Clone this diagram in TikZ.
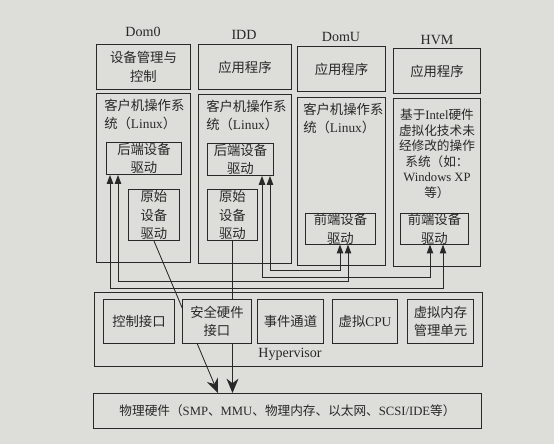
\documentclass[tikz,border=0pt]{standalone}
\usepackage{fontspec}
\setmainfont{Liberation Serif}
\newfontfamily\cjk{Noto Sans CJK SC}
\usetikzlibrary{arrows.meta,calc}
\definecolor{paper}{RGB}{221,221,217}
\definecolor{ink}{RGB}{40,40,40}
\newcommand{\en}[1]{{\rmfamily #1}}

\begin{document}
\begin{tikzpicture}[x=0.25mm,y=-0.25mm,
	blk/.style={draw=ink, line width=0.7pt, fill=paper, inner sep=0pt, align=center, anchor=north west, text=ink, font=\cjk\fontsize{9.5}{13}\selectfont},
	sz/.style 2 args={minimum width=#1*0.25mm, minimum height=#2*0.25mm},
	txt/.style={inner sep=0pt, text=ink, font=\cjk\fontsize{9.5}{13}\selectfont},
	lbl/.style={inner sep=0pt, text=ink, font=\fontsize{10}{12}\selectfont},
	link/.style={draw=ink, line width=0.6pt, {Triangle[length=2.2mm,width=1.6mm]}-{Triangle[length=2.2mm,width=1.6mm]}},
	down/.style={draw=ink, line width=0.6pt, -{Stealth[length=3.6mm,width=3mm]}}]
	\fill[paper] (0,0) rectangle (554,444);
	\useasboundingbox (0,0) rectangle (554,444);
	%Domini
	\node[lbl] (t0) at (143,32) {Dom0};
	\node[lbl] (t1) at (244,35) {IDD};
	\node[lbl] (t2) at (341,37) {DomU};
	\node[lbl] (t3) at (437,40) {HVM};
	\node[blk, sz={94}{45}] (app0) at (96,44) {设备管理与\\控制};
	\node[blk, sz={93}{45}] (app1) at (198,44) {应用程序};
	\node[blk, sz={88}{45}] (app2) at (297,46) {应用程序};
	\node[blk, sz={87}{45}] (app3) at (393,48) {应用程序};
	\node[blk, sz={94}{169}] (os0) at (96,93) {};
	\node[blk, sz={93}{169}] (os1) at (198,94) {};
	\node[blk, sz={88}{168}] (os2) at (297,97) {};
	\node[blk, sz={87}{168}] (os3) at (393,98) {};
	\node[txt, align=left, anchor=north west] (os0t) at ($(os0.north west)+(8,6)$) {客户机操作系\\统（\en{Linux}）};
	\node[txt, align=left, anchor=north west] (os1t) at ($(os1.north west)+(8,6)$) {客户机操作系\\统（\en{Linux}）};
	\node[txt, align=left, anchor=north west] (os2t) at ($(os2.north west)+(6,6)$) {客户机操作系\\统（\en{Linux}）};
	\node[txt, align=center, anchor=north, font=\cjk\fontsize{9}{11}\selectfont] (os3t) at ($(os3.north)+(0,11)$) {基于\en{Intel}硬件\\虚拟化技术未\\经修改的操作\\系统（如：\\\en{Windows XP}\\等）};
	%Driver
	\node[blk, sz={75}{32}] (be0) at (106,142) {后端设备\\驱动};
	\node[blk, sz={51}{51}] (raw0) at (128,189) {原始\\设备\\驱动};
	\node[blk, sz={66}{32}] (be1) at (207,143) {后端设备\\驱动};
	\node[blk, sz={50}{51}] (raw1) at (207,189) {原始\\设备\\驱动};
	\node[blk, sz={70}{30}] (fe2) at (305,213) {前端设备\\驱动};
	\node[blk, sz={68}{30}] (fe3) at (400,213) {前端设备\\驱动};
	\draw[link] ($(be1.south west)+(63,0)$) -- ++(0,94) -| ($(fe2.south west)+(35,0)$);
	\draw[link] ($(be1.south west)+(55,0)$) -- ++(0,101) -| ($(fe3.south west)+(30,0)$);
	\draw[link] ($(be0.south west)+(12,0)$) -- ++(0,106) -| ($(fe2.south west)+(43,0)$);
	\draw[link] ($(be0.south west)+(4,0)$) -- ++(0,113) -| ($(fe3.south west)+(43,0)$);
	%Hypervisor e hardware
	\node[blk, sz={388}{74}] (hv) at (94,292) {};
	\node[blk, sz={388}{35}, font=\cjk\fontsize{9}{12}\selectfont] (hw) at (93,393) {物理硬件（\en{SMP}、\en{MMU}、物理内存、以太网、\en{SCSI/IDE}等）};
	\draw[down] (raw0.south) -- ($(hw.north west)+(125,0)$);
	\draw[down] (raw1.south) -- (raw1.south |- hw.north);
	\node[blk, sz={71}{44}] (ctl) at (103,299) {控制接口};
	\node[blk, sz={69}{44}] (sec) at (182,299) {安全硬件\\接口};
	\node[blk, sz={66}{44}] (evt) at (257,299) {事件通道};
	\node[blk, sz={65}{44}] (cpu) at (332,299) {虚拟\en{CPU}};
	\node[blk, sz={66}{44}] (mmu) at (407,299) {虚拟内存\\管理单元};
	\node[lbl] (hvl) at (290,354) {Hypervisor};
\end{tikzpicture}
\end{document}
